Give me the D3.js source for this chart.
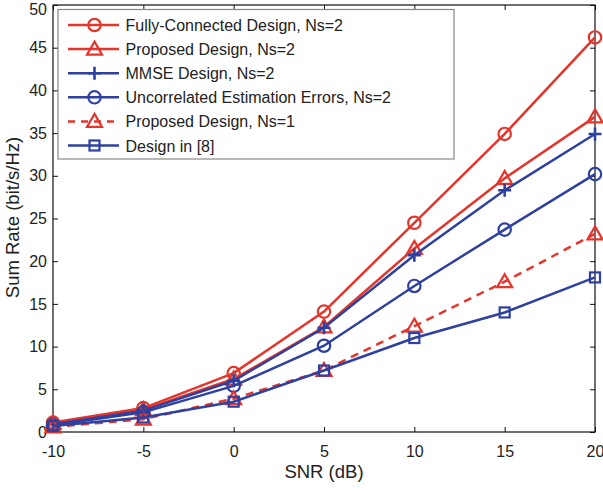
<!DOCTYPE html>
<html><head><meta charset="utf-8">
<script src="https://cdn.jsdelivr.net/npm/d3@7"></script>
<style>body{margin:0;background:#fff}svg{display:block}text{font-family:"Liberation Sans",Arial,sans-serif;fill:#222}</style>
</head><body><svg id="c" width="603" height="491"></svg>
<script>
const snr = [-10, -5, 0, 5, 10, 15, 20];
const xTicks = [-10, -5, 0, 5, 10, 15, 20];
const yTicks = [0, 5, 10, 15, 20, 25, 30, 35, 40, 45, 50];
const fullyConnected = [1.1, 2.8, 6.9, 14.1, 24.5, 34.9, 46.2];
const proposedNs2   = [1.0, 2.6, 6.2, 12.3, 21.5, 29.7, 36.9];
const mmseNs2       = [0.9, 2.5, 6.0, 12.2, 20.7, 28.3, 34.9];
const uncorrelated  = [0.8, 2.3, 5.4, 10.1, 17.1, 23.7, 30.2];
const proposedNs1   = [0.6, 1.5, 3.9, 7.2, 12.4, 17.6, 23.2];
const design8       = [0.7, 1.7, 3.55, 7.2, 11.0, 14.0, 18.1];
const seriesNames = ["Fully-Connected Design, Ns=2","Proposed Design, Ns=2","MMSE Design, Ns=2","Uncorrelated Estimation Errors, Ns=2","Proposed Design, Ns=1","Design in [8]"];

const RED = "#e5352b", BLUE = "#2e40a0";
const series = [
  {name: seriesNames[0], v: fullyConnected, c: RED, m: "circle", dash: null},
  {name: seriesNames[1], v: proposedNs2, c: RED, m: "triangle", dash: null},
  {name: seriesNames[2], v: mmseNs2, c: BLUE, m: "plus", dash: null},
  {name: seriesNames[3], v: uncorrelated, c: BLUE, m: "circle", dash: null},
  {name: seriesNames[4], v: proposedNs1, c: RED, m: "triangle", dash: "8,6"},
  {name: seriesNames[5], v: design8, c: BLUE, m: "square", dash: null}
];

const svg = d3.select("#c");
const L = 53, R = 595, T = 5, B = 432;
const x = d3.scaleLinear().domain([-10, 20]).range([L, R]);
const y = d3.scaleLinear().domain([0, 50]).range([B, T]);

const fs = 16;
const styleTicks = g => { g.select(".domain").remove(); g.selectAll("line").attr("stroke","#111");
  g.selectAll("text").attr("font-size", fs).attr("fill","#222").style("font-family","Liberation Sans, Arial"); };
svg.append("g").attr("transform", `translate(0,${B})`)
  .call(d3.axisBottom(x).tickValues(xTicks).tickSize(-5).tickPadding(14).tickFormat(d => String(d)))
  .call(styleTicks);
svg.append("g").attr("transform", `translate(0,${T})`)
  .call(d3.axisTop(x).tickValues(xTicks).tickSize(-5).tickFormat(""))
  .call(styleTicks);
svg.append("g").attr("transform", `translate(${L},0)`)
  .call(d3.axisLeft(y).tickValues(yTicks).tickSize(-5).tickPadding(6).tickFormat(d => String(d)))
  .call(styleTicks)
  .call(g => g.selectAll(".tick").filter(d => d === 50).select("text").attr("dy", "0.6em"));
svg.append("g").attr("transform", `translate(${R},0)`)
  .call(d3.axisRight(y).tickValues(yTicks).tickSize(-5).tickFormat(""))
  .call(styleTicks);
svg.append("rect").attr("x", L).attr("y", T).attr("width", R - L).attr("height", B - T)
  .attr("fill", "none").attr("stroke", "#111").attr("stroke-width", 1.2);

// labels
svg.append("text").attr("x", (L + R) / 2).attr("y", 478).attr("text-anchor", "middle").attr("font-size", 18.5).text("SNR (dB)");
svg.append("text").attr("transform", `translate(18.5,217.5) rotate(-90)`).attr("text-anchor", "middle").attr("font-size", 18.5).text("Sum Rate (bit/s/Hz)");

function marker(g, type, cx, cy, color) {
  if (type === "circle") g.append("circle").attr("cx", cx).attr("cy", cy).attr("r", 6.2).attr("fill", "none").attr("stroke", color).attr("stroke-width", 2.2);
  else if (type === "triangle") g.append("path").attr("d", `M${cx},${cy-7.5}L${cx+7.5},${cy+5.5}L${cx-7.5},${cy+5.5}Z`).attr("fill", "none").attr("stroke", color).attr("stroke-width", 2.2);
  else if (type === "plus") g.append("path").attr("d", `M${cx-6.5},${cy}H${cx+6.5}M${cx},${cy-6.5}V${cy+6.5}`).attr("stroke", color).attr("stroke-width", 2.6);
  else if (type === "square") g.append("rect").attr("x", cx-5).attr("y", cy-5).attr("width", 10).attr("height", 10).attr("fill", "none").attr("stroke", color).attr("stroke-width", 2.2);
}

const line = d3.line().x((d, i) => x(snr[i])).y(d => y(d));
const plot = svg.append("g");
series.forEach(s => {
  const g = plot.append("g");
  g.append("path").attr("d", line(s.v)).attr("fill", "none").attr("stroke", s.c).attr("stroke-width", 2.5)
    .attr("stroke-dasharray", s.dash);
  s.v.forEach((v, i) => marker(g, s.m, x(snr[i]), y(v), s.c));
});

// legend
const lg = svg.append("g");
lg.append("rect").attr("x", 58).attr("y", 9.5).attr("width", 396).attr("height", 149.5).attr("fill", "#fff").attr("stroke", "#888").attr("stroke-width", 1.2);
series.forEach((s, i) => {
  const ly = 25 + i * 24.1;
  lg.append("line").attr("x1", 68).attr("x2", 119).attr("y1", ly).attr("y2", ly).attr("stroke", s.c).attr("stroke-width", 2.5)
    .attr("stroke-dasharray", s.dash ? "7,6" : null);
  marker(lg, s.m, 94.5, ly, s.c);
  lg.append("text").attr("x", 125.5).attr("y", ly + 6).attr("font-size", 16).text(s.name);
});
</script></body></html>
